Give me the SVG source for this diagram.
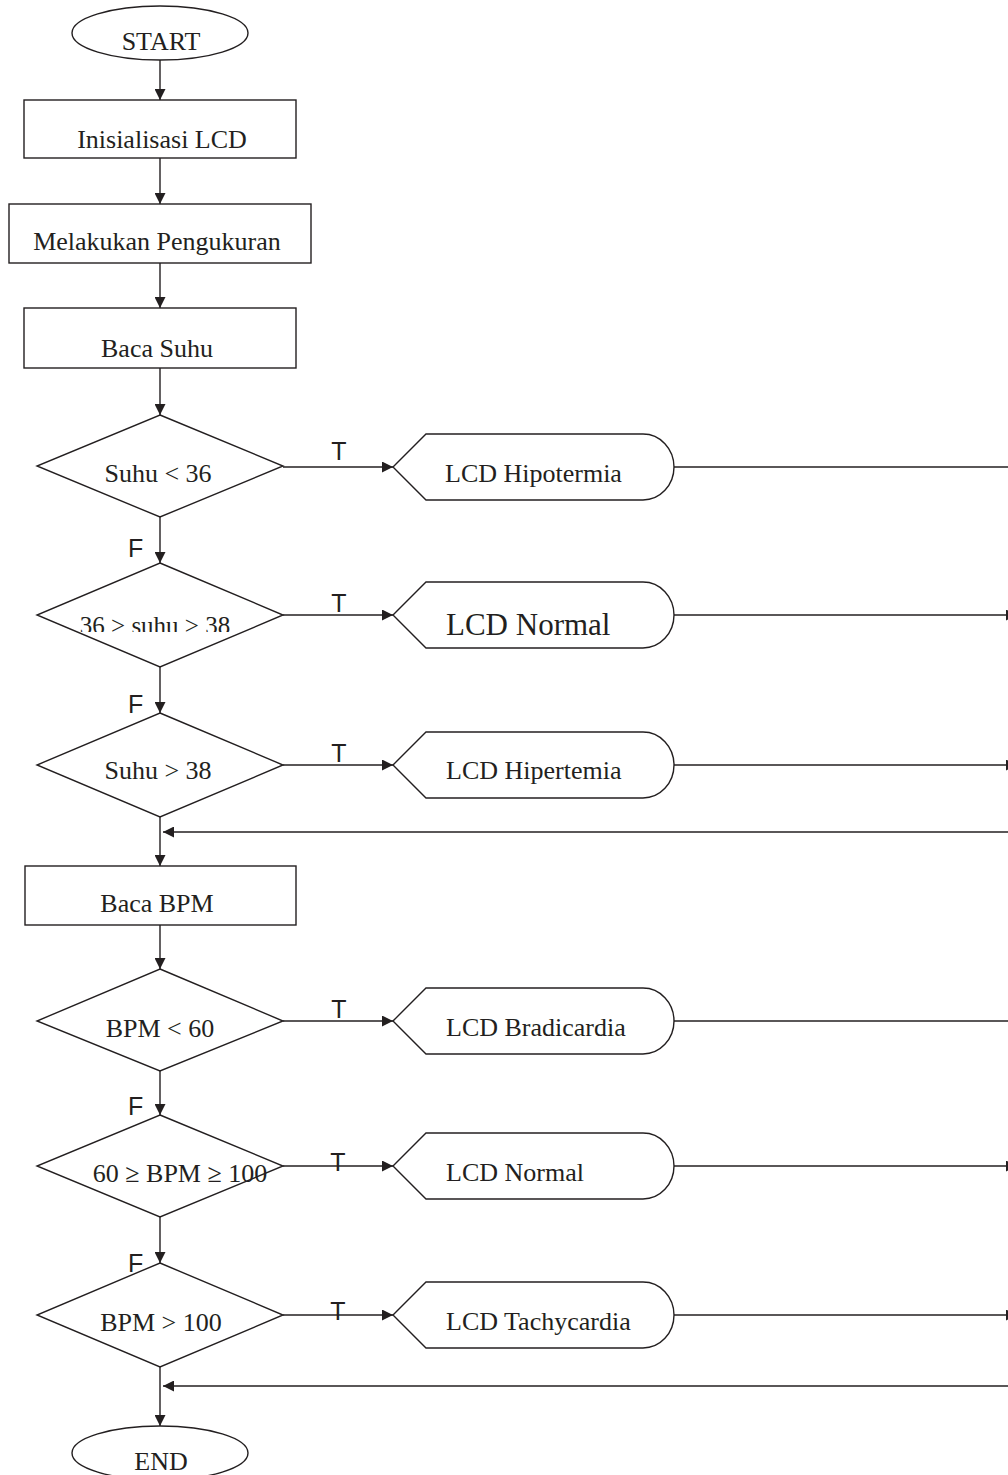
<svg xmlns="http://www.w3.org/2000/svg" width="1008" height="1475" viewBox="0 0 1008 1475">
<style>
.s{fill:#fff;stroke:#231f20;stroke-width:1.4}
.c{fill:none;stroke:#231f20;stroke-width:1.4}
.t{font-family:"Liberation Serif","Times New Roman",serif;font-size:26px;fill:#231f20}
.m{text-anchor:middle}
.l{font-family:"Liberation Sans",Arial,sans-serif;font-size:25px;fill:#231f20}
</style>
<defs>
<marker id="ah" markerUnits="userSpaceOnUse" markerWidth="11" markerHeight="11" refX="10" refY="5" orient="auto" viewBox="0 0 10 10">
<path d="M0,0 L10,5 L0,10 z" fill="#231f20"/>
</marker>
<clipPath id="clipD2"><rect x="30" y="590" width="260" height="42"/></clipPath>
</defs>

<g id="connectors">
<line class="c" x1="160" y1="60" x2="160" y2="100" marker-end="url(#ah)"/>
<line class="c" x1="160" y1="158" x2="160" y2="204" marker-end="url(#ah)"/>
<line class="c" x1="160" y1="263" x2="160" y2="308" marker-end="url(#ah)"/>
<line class="c" x1="160" y1="368" x2="160" y2="415" marker-end="url(#ah)"/>
<line class="c" x1="160" y1="517" x2="160" y2="563" marker-end="url(#ah)"/>
<line class="c" x1="160" y1="667" x2="160" y2="713" marker-end="url(#ah)"/>
<line class="c" x1="160" y1="817" x2="160" y2="866" marker-end="url(#ah)"/>
<line class="c" x1="160" y1="925" x2="160" y2="969" marker-end="url(#ah)"/>
<line class="c" x1="160" y1="1071" x2="160" y2="1115" marker-end="url(#ah)"/>
<line class="c" x1="160" y1="1217" x2="160" y2="1263" marker-end="url(#ah)"/>
<line class="c" x1="160" y1="1367" x2="160" y2="1426" marker-end="url(#ah)"/>

<line class="c" x1="283" y1="467" x2="393" y2="467" marker-end="url(#ah)"/>
<line class="c" x1="283" y1="615" x2="393" y2="615" marker-end="url(#ah)"/>
<line class="c" x1="283" y1="765" x2="393" y2="765" marker-end="url(#ah)"/>
<line class="c" x1="283" y1="1021" x2="393" y2="1021" marker-end="url(#ah)"/>
<line class="c" x1="283" y1="1166" x2="393" y2="1166" marker-end="url(#ah)"/>
<line class="c" x1="283" y1="1315" x2="393" y2="1315" marker-end="url(#ah)"/>

<line class="c" x1="674" y1="467" x2="1010" y2="467"/>
<line class="c" x1="674" y1="615" x2="1017" y2="615" marker-end="url(#ah)"/>
<line class="c" x1="674" y1="765" x2="1017" y2="765" marker-end="url(#ah)"/>
<line class="c" x1="1010" y1="832" x2="163" y2="832" marker-end="url(#ah)"/>
<line class="c" x1="674" y1="1021" x2="1010" y2="1021"/>
<line class="c" x1="674" y1="1166" x2="1017" y2="1166" marker-end="url(#ah)"/>
<line class="c" x1="674" y1="1315" x2="1017" y2="1315" marker-end="url(#ah)"/>
<line class="c" x1="1010" y1="1386" x2="163" y2="1386" marker-end="url(#ah)"/>

<text class="l" x="128" y="557">F</text>
<text class="l" x="128" y="713">F</text>
<text class="l" x="128" y="1115">F</text>
<text class="l" x="128" y="1272">F</text>
<text class="l m" x="339" y="460">T</text>
<text class="l m" x="339" y="612">T</text>
<text class="l m" x="339" y="762">T</text>
<text class="l m" x="339" y="1018">T</text>
<text class="l m" x="338" y="1171">T</text>
<text class="l m" x="338" y="1320">T</text>
</g>

<g id="start">
<ellipse class="s" cx="160" cy="33" rx="88" ry="27"/>
<text class="t m" x="161" y="50">START</text>
</g>
<g id="init-lcd">
<rect class="s" x="24" y="100" width="272" height="58"/>
<text class="t m" x="162" y="148">Inisialisasi LCD</text>
</g>
<g id="ukur">
<rect class="s" x="9" y="204" width="302" height="59"/>
<text class="t m" x="157" y="250">Melakukan Pengukuran</text>
</g>
<g id="baca-suhu">
<rect class="s" x="24" y="308" width="272" height="60"/>
<text class="t m" x="157" y="357">Baca Suhu</text>
</g>
<g id="d-suhu-lt36">
<polygon class="s" points="160,415 283,466 160,517 37,466"/>
<text class="t m" x="158" y="482">Suhu &lt; 36</text>
</g>
<g id="d-suhu-normal">
<polygon class="s" points="160,563 283,615 160,667 37,615"/>
<text class="t m" x="155" y="634" clip-path="url(#clipD2)" style="font-size:25px">36 &gt; suhu &gt; 38</text>
</g>
<g id="d-suhu-gt38">
<polygon class="s" points="160,713 283,765 160,817 37,765"/>
<text class="t m" x="158" y="779">Suhu &gt; 38</text>
</g>
<g id="baca-bpm">
<rect class="s" x="25" y="866" width="271" height="59"/>
<text class="t m" x="157" y="912">Baca BPM</text>
</g>
<g id="d-bpm-lt60">
<polygon class="s" points="160,969 283,1021 160,1071 37,1021"/>
<text class="t m" x="160" y="1037">BPM &lt; 60</text>
</g>
<g id="d-bpm-normal">
<polygon class="s" points="160,1115 283,1166 160,1217 37,1166"/>
<text class="t m" x="180" y="1182" style="font-size:26px">60 ≥ BPM ≥ 100</text>
</g>
<g id="d-bpm-gt100">
<polygon class="s" points="160,1263 283,1315 160,1367 37,1315"/>
<text class="t m" x="161" y="1331">BPM &gt; 100</text>
</g>

<g id="lcd-hipotermia">
<path class="s" d="M393,467 L426,434 L643,434 A31,33 0 0 1 643,500 L426,500 Z"/>
<text class="t" x="445" y="482">LCD Hipotermia</text>
</g>
<g id="lcd-normal-suhu">
<path class="s" d="M393,615 L426,582 L643,582 A31,33 0 0 1 643,648 L426,648 Z"/>
<text class="t" x="446" y="635" style="font-size:31px">LCD Normal</text>
</g>
<g id="lcd-hipertemia">
<path class="s" d="M393,765 L426,732 L643,732 A31,33 0 0 1 643,798 L426,798 Z"/>
<text class="t" x="446" y="779">LCD Hipertemia</text>
</g>
<g id="lcd-bradicardia">
<path class="s" d="M393,1021 L426,988 L643,988 A31,33 0 0 1 643,1054 L426,1054 Z"/>
<text class="t" x="446" y="1036">LCD Bradicardia</text>
</g>
<g id="lcd-normal-bpm">
<path class="s" d="M393,1166 L426,1133 L643,1133 A31,33 0 0 1 643,1199 L426,1199 Z"/>
<text class="t" x="446" y="1181">LCD Normal</text>
</g>
<g id="lcd-tachycardia">
<path class="s" d="M393,1315 L426,1282 L643,1282 A31,33 0 0 1 643,1348 L426,1348 Z"/>
<text class="t" x="446" y="1330">LCD Tachycardia</text>
</g>
<g id="end">
<ellipse class="s" cx="160" cy="1453" rx="88" ry="27"/>
<text class="t m" x="161" y="1470">END</text>
</g>
</svg>
